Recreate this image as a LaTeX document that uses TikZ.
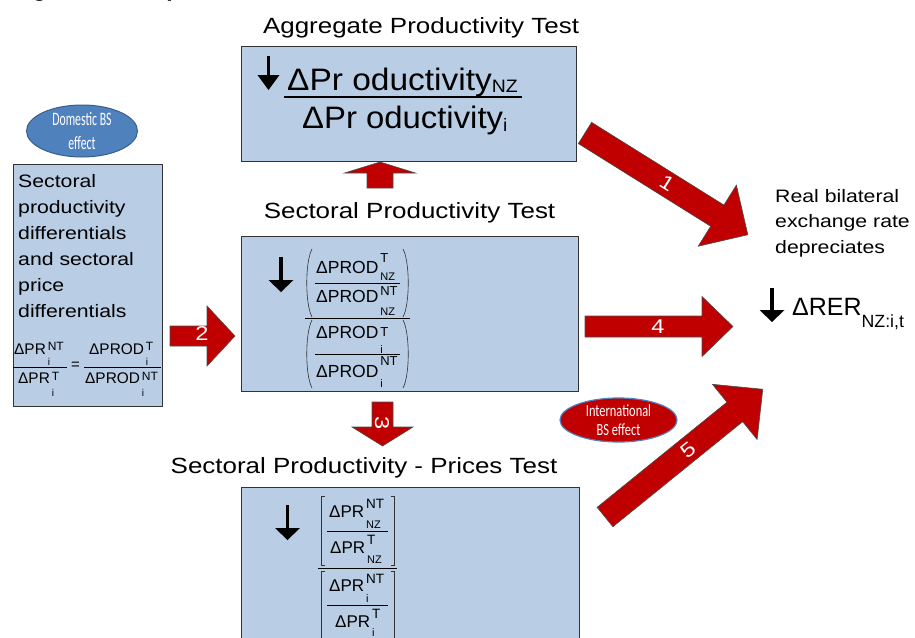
\documentclass[tikz,border=0pt]{standalone}
\usepackage{fontspec}
\setmainfont{Liberation Sans}
\newfontfamily\carl{Carlito}
\usetikzlibrary{shapes.geometric}
\definecolor{boxblue}{HTML}{B9CDE5}
\definecolor{arrred}{HTML}{C00000}
\definecolor{ellblue}{HTML}{4F81BD}
\definecolor{ellborder}{HTML}{385D8A}
\newcommand{\hx}[1]{\scalebox{1.18}[1]{#1}}
\newcommand{\fs}[1]{\fontsize{#1}{#1}\selectfont}
% block arrow: tail x, tail y, angle, length, shaft width, head width, head length
\newcommand{\blockarrow}[7]{%
  \begin{scope}[shift={(#1,#2)},rotate=#3,x=1pt,y=1pt]
    \draw[barrowst] (0,{-#5/2}) -- ({#4-#7},{-#5/2}) -- ({#4-#7},{-#6/2}) -- (#4,0)
      -- ({#4-#7},{#6/2}) -- ({#4-#7},{#5/2}) -- (0,{#5/2}) -- cycle;
  \end{scope}}
% small black down arrow: x, y top, y tip, head width, head length
\newcommand{\smalldown}[5]{%
  \draw[downarr] (#1,#2) -- (#1,{#3-#5+1});
  \fill ({#1-#4/2},{#3-#5}) -- ({#1+#4/2},{#3-#5}) -- (#1,#3) -- cycle;}
% equation term: name, x, baseline y, main, sup, raise, sub, lower
\newcommand{\eqterm}[8]{%
  \node[eqmain] (#1) at (#2,#3) {#4};
  \node[eqsup] (#1s) at ([xshift=1.5pt,yshift=#6pt]#1.base east) {#5};
  \node[eqsub] (#1b) at ([xshift=1.5pt,yshift=-#8pt]#1.base east) {#7};}
\begin{document}
\begin{tikzpicture}[x=1pt,y=-1pt,
  box/.style={draw=black!80, fill=boxblue, line width=0.9pt, inner sep=0pt, outer sep=0pt, anchor=north west},
  barrowst/.style={fill=arrred, draw=black!70, line width=0.6pt, line join=miter},
  lbl/.style={text=white, font=\fs{20}, inner sep=0pt},
  ttl/.style={font=\fs{22}, inner sep=0pt, anchor=base},
  body/.style={inner sep=0pt, anchor=base west},
  eqmain/.style={body, font=\fs{17.5}},
  eqsup/.style={body, font=\fs{13}},
  eqsub/.style={body, font=\fs{11}},
  eqbar/.style={line width=0.9pt},
  delim/.style={line width=0.6pt, draw=black!80},
  downarr/.style={line width=3.4pt}]
\useasboundingbox (0,0) rectangle (915,637);
\clip (0,0) rectangle (915,637);

% cut-off figure title
\node[body, font=\bfseries\fs{23}] (figtitle) at (12,-4) {Figure 10: Empirical framework};

% titles
\node[ttl] (aggtitle) at (421,33) {\hx{Aggregate Productivity Test}};
\node[ttl] (secttitle) at (409.5,218) {\hx{Sectoral Productivity Test}};
\node[ttl] (pricetitle) at (364,473) {\hx{Sectoral Productivity - Prices Test}};

% boxes
\node[box, minimum width=335pt, minimum height=115pt] (agg) at (241,46) {};
\node[box, minimum width=337pt, minimum height=155pt] (sect) at (241,236) {};
\node[box, minimum width=338pt, minimum height=175pt] (price) at (241,487) {};
\node[box, minimum width=149pt, minimum height=242pt] (left) at (13,164) {};

% aggregate equation
\smalldown{268.5}{56}{90}{22}{15}
\node[body, font=\fs{31}] (aggnum) at (287,90.5) {\scalebox{1.08}[1]{ΔPr oductivity\raisebox{-1.5pt}{\fs{18}NZ}}};
\draw[line width=1.3pt] (284,97) -- (522,97);
\node[body, font=\fs{31}] (aggden) at (302,128) {\scalebox{1.06}[1]{ΔPr oductivity\raisebox{-3pt}{\fs{18}i}}};

% sectoral equation
\smalldown{281}{257}{292}{25}{12}
\eqterm{m1}{316}{273}{ΔPROD}{T}{11}{NZ}{7}
\eqterm{m2}{316}{302}{ΔPROD}{NT}{7}{NZ}{13}
\eqterm{m3}{316}{338}{ΔPROD}{T}{2}{i}{15}
\eqterm{m4}{316}{377}{ΔPROD}{NT}{12}{i}{10}
\draw[eqbar] (315,283) -- (400,283);
\draw[eqbar] (305,318) -- (410,318);
\draw[eqbar] (315,354) -- (400,354);
\draw[delim] (312,249) .. controls (305,262) and (305,304) .. (312,317);
\draw[delim] (403,249) .. controls (410,262) and (410,304) .. (403,317);
\draw[delim] (312,320) .. controls (305,333) and (305,375) .. (312,388);
\draw[delim] (403,320) .. controls (410,333) and (410,375) .. (403,388);

% prices equation
\smalldown{287.5}{505}{540}{25}{12}
\begin{scope}[eqmain/.style={body, font=\fs{17}}, eqsup/.style={body, font=\fs{13.5}}]
\eqterm{p1}{329}{517}{ΔPR}{NT}{9}{NZ}{11}
\eqterm{p2}{330}{553}{ΔPR}{T}{9}{NZ}{10}
\eqterm{p3}{329}{591}{ΔPR}{NT}{8}{i}{11}
\eqterm{p4}{335}{627}{ΔPR}{T}{9}{i}{9}
\end{scope}
\draw[eqbar] (327,531) -- (388,531);
\draw[eqbar] (318,568) -- (397,568);
\draw[eqbar] (327,605) -- (388,605);
\draw[delim] (324.5,496) -- (321,496) -- (321,565) -- (324.5,565);
\draw[delim] (390.5,496) -- (394,496) -- (394,565) -- (390.5,565);
\draw[delim] (324.5,571) -- (321,571) -- (321,645) -- (324.5,645);
\draw[delim] (390.5,571) -- (394,571) -- (394,645) -- (390.5,645);

% left box
\node[body, font=\fontsize{18}{26}\selectfont] (lefttxt) at (18,187) {\hx{\begin{tabular}[t]{@{}l@{}}Sectoral\\productivity\\differentials\\and sectoral\\price\\differentials\end{tabular}}};
\begin{scope}[eqmain/.style={body, font=\fs{15.4}}, eqsup/.style={body, font=\fs{12}}, eqsub/.style={body, font=\fs{10}}]
\eqterm{q1}{14}{354}{ΔPR}{NT}{4}{i}{11}
\eqterm{q2}{18}{383}{ΔPR}{T}{3}{i}{13}
\eqterm{q3}{89}{354}{ΔPROD}{T}{4}{i}{11}
\eqterm{q4}{85}{383}{ΔPROD}{NT}{3}{i}{13}
\end{scope}
\draw[eqbar] (13,367) -- (67,367);
\draw[eqbar] (84,367) -- (161,367);
\node[font=\fs{15}, inner sep=0pt] (qeq) at (75.5,365.5) {=};

% ellipses
\node[ellipse, fill=ellblue, draw=ellborder, line width=1pt, minimum width=111pt, minimum height=52pt, inner sep=0pt] (dom) at (82,131) {};
\node[text=white, inner sep=0pt, font=\carl\fontsize{19}{24}\selectfont] (domtxt) at (82,133) {\scalebox{0.62}[1]{\begin{tabular}{@{}c@{}}Domestic BS\\effect\end{tabular}}};
\node[ellipse, fill=arrred, draw=ellblue, line width=1.2pt, minimum width=117pt, minimum height=44pt, inner sep=0pt] (intl) at (618.5,420) {};
\node[text=white, inner sep=0pt, font=\carl\fontsize{17}{19}\selectfont] (intltxt) at (618.5,421.7) {\scalebox{0.73}[1]{\begin{tabular}{@{}c@{}}International\\BS effect\end{tabular}}};

% right side
\node[body, font=\fontsize{18}{25.5}\selectfont] (realtxt) at (775,202) {\hx{\begin{tabular}[t]{@{}l@{}}Real bilateral\\exchange rate\\depreciates\end{tabular}}};
\smalldown{772}{288}{322}{25}{12}
\node[body, font=\fs{25}] (rer) at (792,315) {ΔRER\raisebox{-12pt}{\fs{17.7}NZ:i,t}};

% block arrows
\blockarrow{585}{133}{-32}{192}{25}{72}{36}
\blockarrow{170}{336}{0}{65}{20}{60}{28}
\blockarrow{382.5}{402}{-90}{44}{21}{61}{19}
\blockarrow{380}{188}{90}{26}{26}{71}{11}
\blockarrow{585}{326.5}{0}{148}{21}{60}{31}
\blockarrow{605}{517}{39}{203}{25}{71}{36}

% arrow labels
\node[lbl, rotate=-32] (l1) at (667,183) {\hx{1}};
\node[lbl] (l2) at (202,334) {\hx{2}};
\node[lbl, rotate=-90] (l3) at (382,423) {\hx{3}};
\node[lbl] (l4) at (658,327) {\hx{4}};
\node[lbl, rotate=39] (l5) at (688,450) {\hx{5}};
\end{tikzpicture}
\end{document}
